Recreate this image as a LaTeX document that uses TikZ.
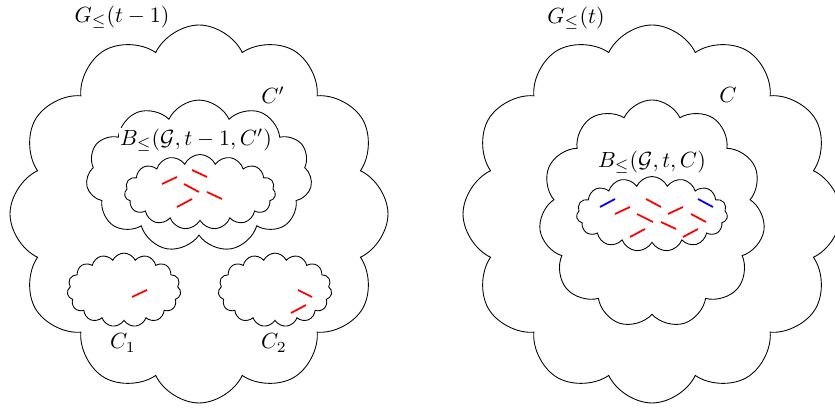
\documentclass[tikz,border=0pt]{standalone}
\usepackage{amsfonts, amssymb, amsmath}
\usetikzlibrary{shapes.symbols}

\begin{document}
\begin{tikzpicture}[x=0.016cm, y=-0.016cm,
    blob/.style={cloud, draw, thin, inner sep=0pt, cloud puff arc=130},
    edgeseg/.style={thick, red}]
    \useasboundingbox (0,0) rectangle (835,408);

    % left: G(t-1)
    \node[blob, cloud puffs=12, minimum width=6.05cm, minimum height=6.05cm] (outerL) at (199,214) {};
    \node[blob, cloud puffs=11, minimum width=3.62cm, minimum height=2.43cm] (cloudCp) at (199,176) {};
    \node[blob, cloud puffs=15, minimum width=2.42cm, minimum height=1.2cm] (ballL) at (200,192) {};
    \node[blob, cloud puffs=15, minimum width=1.82cm, minimum height=1.18cm] (cloudCa) at (124,290) {};
    \node[blob, cloud puffs=15, minimum width=1.82cm, minimum height=1.18cm] (cloudCb) at (275,290) {};

    \node (labGL) at (122,17) {$G_{\leq}(t-1)$};
    \node (labCp) at (273,95) {$C'$};
    \node[fill=white, inner sep=0.5pt] (labBL) at (196,140) {$B_{\leq}(\mathcal{G},t-1,C')$};
    \node (labCa) at (123,343) {$C_1$};
    \node (labCb) at (274,343) {$C_2$};

    \foreach \xa/\ya/\xb/\yb in {162/184/177/177, 192/170/207/177, 184/184/199/192,
        207/192/222/199, 177/207/192/199, 132/297/147/290, 298/290/312/297, 291/313/306/305}
        \draw[edgeseg] (\xa,\ya) -- (\xb,\yb);

    % right: G(t)
    \node[blob, cloud puffs=12, minimum width=6.05cm, minimum height=6.05cm] (outerR) at (652,214) {};
    \node[blob, cloud puffs=11, minimum width=3.62cm, minimum height=3.65cm] (cloudC) at (652,214) {};
    \node[blob, cloud puffs=15, minimum width=2.42cm, minimum height=1.2cm] (ballR) at (652,214) {};

    \node (labGR) at (576,18) {$G_{\leq}(t)$};
    \node (labC) at (728,95) {$C$};
    \node (labBR) at (652,162) {$B_{\leq}(\mathcal{G},t,C)$};

    \foreach \xa/\ya/\xb/\yb in {615/214/630/207, 646/199/661/207, 637/214/653/222,
        668/214/683/207, 691/214/706/222, 661/222/676/229, 630/237/645/229, 683/237/698/229}
        \draw[edgeseg] (\xa,\ya) -- (\xb,\yb);
    \draw[thick, blue] (600,207) -- (615,199);
    \draw[thick, blue] (698,199) -- (713,207);
\end{tikzpicture}
\end{document}
